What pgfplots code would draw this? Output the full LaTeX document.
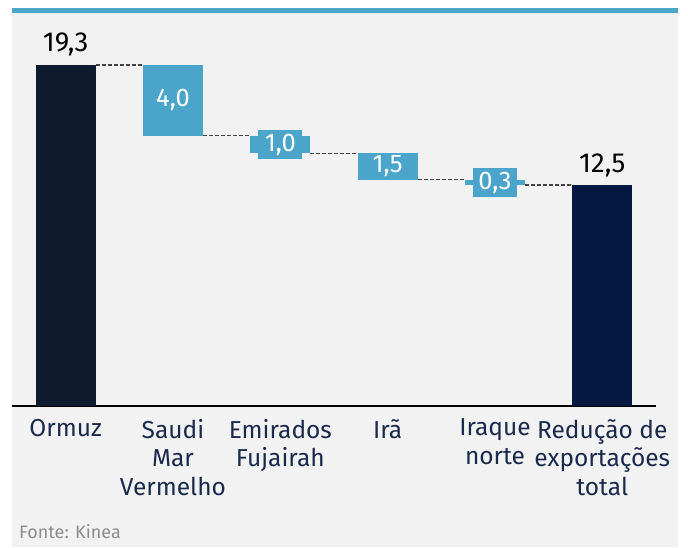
\documentclass[border=0pt]{standalone}
\usepackage{pgfplots}
\pgfplotsset{compat=1.18}
\usepackage{fontspec}
\setmainfont{Fira Sans}
\definecolor{bg}{HTML}{F2F2F2}
\definecolor{topblue}{HTML}{4DA5C9}
\definecolor{lblue}{HTML}{4BA5CA}
\definecolor{ormuz}{HTML}{0E1A2D}
\definecolor{total}{HTML}{031942}
\definecolor{ticktext}{HTML}{1B2A4C}
\definecolor{fonte}{HTML}{8C8C8C}
\definecolor{dashcol}{HTML}{444444}
\begin{document}
\begin{tikzpicture}
\useasboundingbox (-12pt,-141pt) rectangle (676pt,406pt);
\fill[white] (-12pt,-141pt) rectangle (676pt,406pt);
\fill[bg] (0pt,-141pt) rectangle (666pt,398pt);
\fill[topblue] (0pt,393pt) rectangle (666pt,398pt);
\begin{axis}[
  x=107.33pt, y=17.67pt,
  xmin=-0.5, xmax=5.5, ymin=0, ymax=20,
  axis x line=bottom, axis y line=none,
  axis line style={black, line width=1.6pt, -},
  xtick={0,1,2,3,4,5},
  xticklabels={Ormuz,{Saudi\\Mar\\Vermelho},{Emirados\\Fujairah},Irã,{Iraque\\norte},{Redução de\\exportações\\total}},
  major tick length=0pt,
  xticklabel style={align=center, font=\fontsize{24.5}{28.5}\selectfont, text=ticktext, anchor=north, yshift=-9.5pt},
  ytick=\empty,
  clip=false,
]
\addplot[fill=ormuz, draw=none] coordinates {(-0.28,0) (0.28,0) (0.28,19.3) (-0.28,19.3)} -- cycle;
\addplot[fill=lblue, draw=none] coordinates {(0.72,15.3) (1.28,15.3) (1.28,19.3) (0.72,19.3)} -- cycle;
\addplot[fill=lblue, draw=none] coordinates {(1.72,14.3) (2.28,14.3) (2.28,15.3) (1.72,15.3)} -- cycle;
\addplot[fill=lblue, draw=none] coordinates {(2.72,12.8) (3.28,12.8) (3.28,14.3) (2.72,14.3)} -- cycle;
\addplot[fill=lblue, draw=none] coordinates {(3.72,12.5) (4.28,12.5) (4.28,12.8) (3.72,12.8)} -- cycle;
\addplot[fill=total, draw=none] coordinates {(4.72,0) (5.28,0) (5.28,12.5) (4.72,12.5)} -- cycle;
% connectors
\addplot[dashcol, line width=1.3pt, dash pattern=on 4pt off 2pt] coordinates {(0.28,19.3) (0.72,19.3)};
\addplot[dashcol, line width=1.3pt, dash pattern=on 4pt off 2pt] coordinates {(1.28,15.3) (1.72,15.3)};
\addplot[dashcol, line width=1.3pt, dash pattern=on 4pt off 2pt] coordinates {(2.28,14.3) (2.72,14.3)};
\addplot[dashcol, line width=1.3pt, dash pattern=on 4pt off 2pt] coordinates {(3.28,12.8) (3.72,12.8)};
\addplot[dashcol, line width=1.3pt, dash pattern=on 4pt off 2pt] coordinates {(4.28,12.5) (4.72,12.5)};
% labels
\node[anchor=base, font=\fontsize{27.5}{30}\selectfont, text=black, yshift=13pt, inner sep=0pt] at (axis cs:0,19.3) {19,3};
\node[anchor=base, font=\fontsize{27.5}{30}\selectfont, text=black, yshift=13pt, inner sep=0pt] at (axis cs:5,12.5) {12,5};
\node[font=\fontsize{25.5}{28}\selectfont, text=white] at (axis cs:1,17.3) {4,0};
\node[font=\fontsize{25.5}{28}\selectfont, text=white, fill=lblue, inner sep=0pt, minimum width=44pt, minimum height=29pt] at (axis cs:2,14.8) {1,0};
\node[font=\fontsize{25.5}{28}\selectfont, text=white] at (axis cs:3,13.55) {1,5};
\node[font=\fontsize{25.5}{28}\selectfont, text=white, fill=lblue, inner sep=0pt, minimum width=44pt, minimum height=29pt] at (axis cs:4,12.65) {0,3};
\end{axis}
\node[anchor=base west, font=\fontsize{18}{22}\selectfont, text=fonte, inner sep=0pt] at (7pt,-132pt) {Fonte: Kinea};
\end{tikzpicture}
\end{document}
